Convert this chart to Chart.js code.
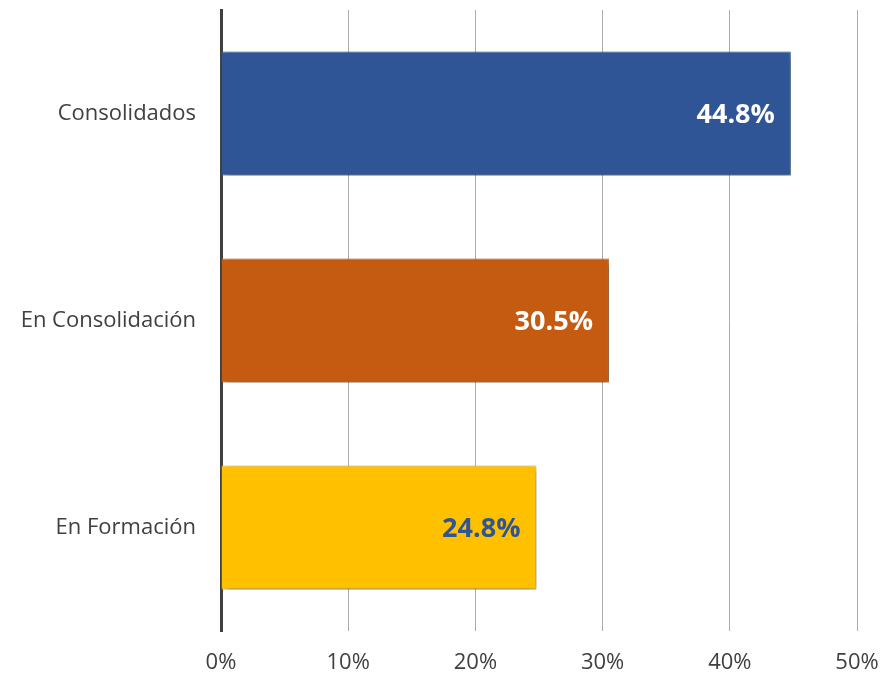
<!DOCTYPE html>
<html>
<head>
<meta charset="utf-8">
<script src="https://cdn.jsdelivr.net/npm/chart.js@4.4.0/dist/chart.umd.min.js"></script>
<style>
html,body{margin:0;padding:0;background:#fff;}
#wrap{width:884px;height:675px;position:relative;}
</style>
</head>
<body>
<div id="wrap"><canvas id="c" width="884" height="675"></canvas></div>
<script>
const categories = ["Consolidados", "En Consolidación", "En Formación"];
const values = [44.8, 30.5, 24.8];
const barColors = ["#2F5597", "#C55A11", "#FFC000"];
const barBorders = ["#5A7DBA", "#D98448", "#FFD966"];
const labelColors = ["#FFFFFF", "#FFFFFF", "#2F5597"];
const xTicks = [0, 10, 20, 30, 40, 50];

const shadowPlugin = {
  id: 'shadow',
  beforeDatasetsDraw(chart) {
    const ctx = chart.ctx;
    ctx.save();
    ctx.shadowColor = 'rgba(0,0,0,0.5)';
    ctx.shadowBlur = 8;
    ctx.shadowOffsetX = 2;
    ctx.shadowOffsetY = 3;
  },
  afterDatasetsDraw(chart) {
    chart.ctx.restore();
  }
};

const labelPlugin = {
  id: 'barLabels',
  afterDatasetsDraw(chart) {
    const ctx = chart.ctx;
    const meta = chart.getDatasetMeta(0);
    ctx.save();
    ctx.font = 'bold 27px "Open Sans", sans-serif';
    ctx.textAlign = 'right';
    ctx.textBaseline = 'middle';
    meta.data.forEach((bar, i) => {
      ctx.fillStyle = labelColors[i];
      ctx.fillText(values[i].toFixed(1) + '%', bar.x - 16, bar.y + 2);
    });
    ctx.restore();
  }
};

new Chart(document.getElementById('c'), {
  type: 'bar',
  data: {
    labels: categories,
    datasets: [{
      data: values,
      backgroundColor: barColors,
      borderColor: barBorders,
      borderWidth: 1,
      borderSkipped: 'start',
      barPercentage: 0.6,
      categoryPercentage: 1.0
    }]
  },
  options: {
    indexAxis: 'y',
    responsive: false,
    animation: false,
    devicePixelRatio: 1,
    layout: { padding: { top: 10, right: 27, left: 0, bottom: 0 } },
    plugins: { legend: { display: false }, tooltip: { enabled: false } },
    scales: {
      x: {
        min: 0, max: 50,
        afterBuildTicks(scale) { scale.ticks = xTicks.map(v => ({ value: v })); },
        afterFit(scale) {
          scale.height = 44;
          scale.paddingLeft = 0; scale.paddingRight = 0;
        },
        grid: { color: '#ABABAB', lineWidth: 1, drawTicks: false },
        border: { display: false },
        ticks: {
          padding: 19,
          color: '#404040',
          font: { family: '"Open Sans", sans-serif', size: 22 },
          callback: (v) => v + '%'
        }
      },
      y: {
        afterFit(scale) {
          scale.width = 221;
          scale.paddingTop = 0; scale.paddingBottom = 0;
        },
        grid: { display: false, drawTicks: false },
        border: { display: true, color: '#404040', width: 3 },
        ticks: {
          padding: 25,
          color: '#404040',
          font: { family: '"Open Sans", sans-serif', size: 22 }
        }
      }
    }
  },
  plugins: [shadowPlugin, labelPlugin]
});
</script>
</body>
</html>
